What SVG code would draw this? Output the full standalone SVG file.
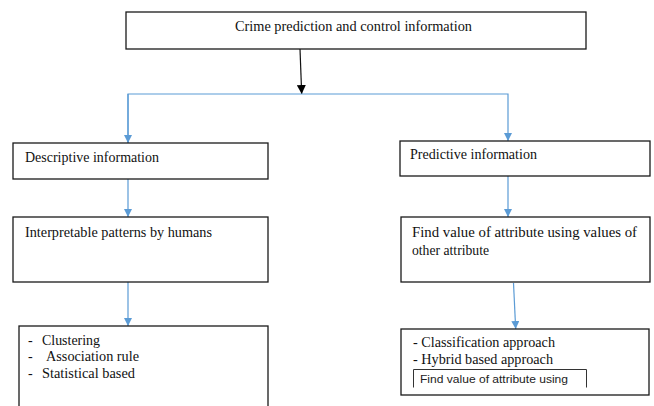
<svg xmlns="http://www.w3.org/2000/svg" width="654" height="406" viewBox="0 0 654 406">
<defs>
<style>
.box{fill:#fff;stroke:#1a1a1a;stroke-width:1.3}
.t{font-family:"Liberation Serif","Times New Roman",serif;font-size:14px;fill:#111}
.s{font-family:"Liberation Sans",Arial,sans-serif;font-size:10px;fill:#222}
.c{fill:none;stroke:#5B9BD5;stroke-width:1.2}
.k{fill:none;stroke:#111;stroke-width:1.2}
</style>
<marker id="ab" viewBox="0 0 10 10" refX="10" refY="5" markerWidth="8" markerHeight="8" markerUnits="userSpaceOnUse" orient="auto"><path d="M0,0 L10,5 L0,10 z" fill="#5B9BD5"/></marker>
<marker id="ak" viewBox="0 0 10 10" refX="10" refY="5" markerWidth="9" markerHeight="9" markerUnits="userSpaceOnUse" orient="auto"><path d="M0,0 L10,5 L0,10 z" fill="#000"/></marker>
</defs>
<rect width="654" height="406" fill="#fff"/>
<g id="connectors">
<line class="k" x1="300" y1="49" x2="301.7" y2="94" marker-end="url(#ak)"/>
<polyline class="c" points="128,143 128,94 508,94 508,141" marker-end="url(#ab)"/>
<line class="c" x1="128" y1="94" x2="128" y2="143" marker-end="url(#ab)"/>
<line class="c" x1="128" y1="179" x2="128" y2="217" marker-end="url(#ab)"/>
<line class="c" x1="508" y1="176" x2="508" y2="217" marker-end="url(#ab)"/>
<line class="c" x1="128" y1="282" x2="128" y2="326" marker-end="url(#ab)"/>
<line class="c" x1="513.5" y1="283" x2="515.7" y2="329" marker-end="url(#ab)"/>
</g>
<g id="top">
<rect class="box" x="126" y="12" width="460" height="37"/>
<text class="t" x="235" y="31" textLength="237" lengthAdjust="spacingAndGlyphs">Crime prediction and control information</text>
</g>
<g id="descriptive">
<rect class="box" x="13" y="143" width="255" height="36"/>
<text class="t" x="25" y="162" textLength="134" lengthAdjust="spacingAndGlyphs">Descriptive information</text>
</g>
<g id="predictive">
<rect class="box" x="400" y="141" width="250" height="35"/>
<text class="t" x="410" y="159" textLength="127" lengthAdjust="spacingAndGlyphs">Predictive information</text>
</g>
<g id="interpretable">
<rect class="box" x="13" y="217" width="255" height="65"/>
<text class="t" x="25" y="237" textLength="187" lengthAdjust="spacingAndGlyphs">Interpretable patterns by humans</text>
</g>
<g id="findvalue">
<rect class="box" x="401" y="217" width="249" height="65"/>
<text class="t" x="412" y="237" textLength="225" lengthAdjust="spacingAndGlyphs">Find value of attribute using values of</text>
<text class="t" x="412" y="255" textLength="77" lengthAdjust="spacingAndGlyphs">other attribute</text>
</g>
<g id="methods-left">
<rect class="box" x="19" y="326" width="249" height="90"/>
<text class="t" x="28" y="345">-</text>
<text class="t" x="42" y="345" textLength="58" lengthAdjust="spacingAndGlyphs">Clustering</text>
<text class="t" x="28" y="361">-</text>
<text class="t" x="46" y="361" textLength="93" lengthAdjust="spacingAndGlyphs">Association rule</text>
<text class="t" x="28" y="378">-</text>
<text class="t" x="42" y="378" textLength="93" lengthAdjust="spacingAndGlyphs">Statistical based</text>
</g>
<g id="methods-right">
<rect class="box" x="401" y="329" width="248" height="66"/>
<text class="t" x="413" y="347" textLength="142" lengthAdjust="spacingAndGlyphs">- Classification approach</text>
<text class="t" x="413" y="364" textLength="140" lengthAdjust="spacingAndGlyphs">- Hybrid based approach</text>
<polyline fill="none" stroke="#333" stroke-width="1" points="413.5,387.5 413.5,369.5 586.5,369.5 586.5,387.5"/>
<text class="s" x="420" y="383" textLength="148" lengthAdjust="spacingAndGlyphs">Find value of attribute using</text>
</g>
</svg>
